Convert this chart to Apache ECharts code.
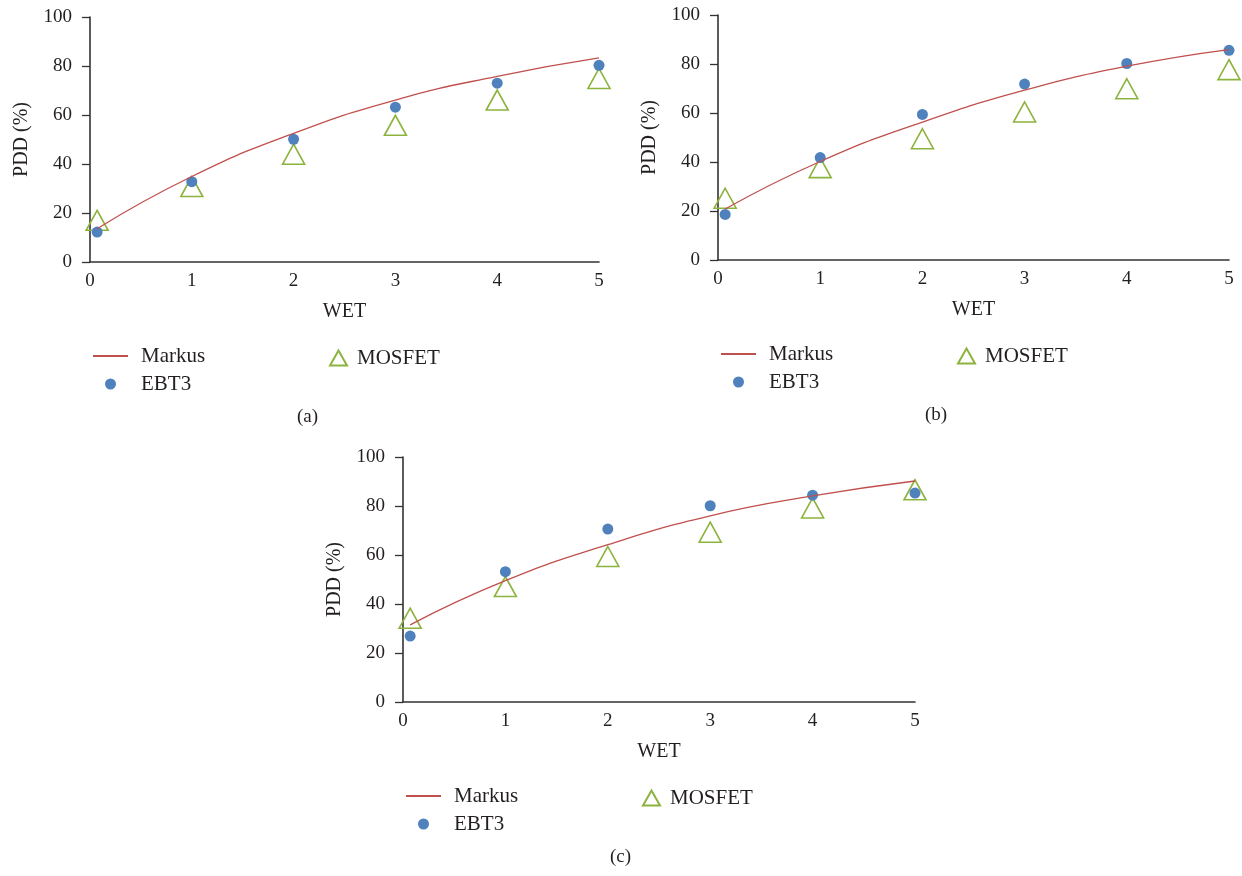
<!DOCTYPE html>
<html>
<head>
<meta charset="utf-8">
<script src="https://cdn.jsdelivr.net/npm/echarts@6/dist/echarts.min.js"></script>
<style>
  html, body { margin: 0; padding: 0; background: #fff; }
  #chart { width: 1242px; height: 876px; }
</style>
</head>
<body>
<div id="chart"></div>
<script>
// depth in water-equivalent thickness (WET)
const wetX = [0.07, 1, 2, 3, 4, 5]

// panel (a)
const markusA = [13.6, 34.9, 52.5, 66.1, 75.8, 83.3]
const ebt3A = [12.2, 32.8, 50.1, 63.2, 73.0, 80.3]
const mosfetA = [17.0, 30.8, 44.0, 55.8, 66.1, 74.9]
// panel (b)
const markusB = [20.8, 40.2, 56.3, 69.3, 79.1, 85.9]
const ebt3B = [18.6, 41.8, 59.4, 71.8, 80.2, 85.6]
const mosfetB = [25.2, 37.7, 49.5, 60.4, 69.9, 77.7]
// panel (c)
const markusC = [31.5, 49.5, 64.2, 76.0, 84.1, 90.2]
const ebt3C = [26.9, 53.2, 70.6, 80.1, 84.4, 85.3]
const mosfetC = [34.2, 47.1, 59.4, 69.3, 79.2, 86.6]

const seriesNames = ['Markus', 'EBT3', 'MOSFET']
const panelLabels = ['(a)', '(b)', '(c)']

const font = '"Liberation Serif", "DejaVu Serif", serif'
const textColor = '#231f20'
const red = '#c0504d'
const blue = '#4f81bd'
const green = '#8db33f'

const panels = [
  { markus: markusA, ebt3: ebt3A, mosfet: mosfetA, left: 90, top: 17, width: 509 },
  { markus: markusB, ebt3: ebt3B, mosfet: mosfetB, left: 718, top: 15, width: 511 },
  { markus: markusC, ebt3: ebt3C, mosfet: mosfetC, left: 403, top: 457, width: 512 }
]

function pairs(ys) {
  return wetX.map((x, i) => [x, ys[i]])
}

const grid = []
const xAxis = []
const yAxis = []
const series = []
const legend = []
const title = []

panels.forEach((p, i) => {
  grid.push({ left: p.left, top: p.top, width: p.width, height: 245 })
  xAxis.push({
    type: 'value',
    gridIndex: i,
    min: 0,
    max: 5,
    interval: 1,
    name: 'WET',
    nameLocation: 'middle',
    nameGap: 40,
    nameTextStyle: { fontFamily: font, fontSize: 20, color: textColor },
    axisLine: { lineStyle: { color: '#333', width: 1.6 } },
    axisTick: { show: false },
    axisLabel: { fontFamily: font, fontSize: 19, color: textColor, margin: 10 },
    splitLine: { show: false }
  })
  yAxis.push({
    type: 'value',
    gridIndex: i,
    min: 0,
    max: 100,
    interval: 20,
    name: 'PDD (%)',
    nameLocation: 'middle',
    nameRotate: 90,
    nameGap: 58,
    nameTextStyle: { fontFamily: font, fontSize: 20, color: textColor },
    axisLine: { show: true, lineStyle: { color: '#333', width: 1.6 } },
    axisTick: { show: true, length: 8, lineStyle: { color: '#333', width: 1.3 } },
    axisLabel: { fontFamily: font, fontSize: 19, color: textColor, margin: 18 },
    splitLine: { show: false }
  })

  series.push({
    name: 'MOSFET',
    type: 'scatter',
    xAxisIndex: i,
    yAxisIndex: i,
    symbol: 'triangle',
    symbolSize: [22, 20],
    itemStyle: { color: 'rgba(255,255,255,0)', borderColor: green, borderWidth: 1.6, opacity: 1 },
    data: pairs(p.mosfet)
  })
  series.push({
    name: 'EBT3',
    type: 'scatter',
    xAxisIndex: i,
    yAxisIndex: i,
    symbol: 'circle',
    symbolSize: 11,
    itemStyle: { color: blue, opacity: 1 },
    data: pairs(p.ebt3)
  })
  series.push({
    name: 'Markus',
    type: 'line',
    xAxisIndex: i,
    yAxisIndex: i,
    smooth: true,
    symbol: 'none',
    lineStyle: { color: red, width: 1.3 },
    itemStyle: { color: red },
    data: pairs(p.markus)
  })

  const legendTop = p.top + 245 + 83
  legend.push({
    left: p.left + 2,
    top: legendTop,
    orient: 'vertical',
    padding: 0,
    itemGap: 6,
    itemWidth: 35,
    itemHeight: 11,
    selectedMode: false,
    textStyle: { fontFamily: font, fontSize: 21, color: textColor, lineHeight: 22, padding: [0, 0, 0, 8] },
    data: [
      { name: seriesNames[0], itemStyle: { opacity: 0 } },
      { name: seriesNames[1], icon: 'circle', itemStyle: { opacity: 1 } }
    ]
  })
  legend.push({
    left: p.left + 239,
    top: legendTop + 2,
    orient: 'horizontal',
    padding: 0,
    itemWidth: 17,
    itemHeight: 15,
    selectedMode: false,
    textStyle: { fontFamily: font, fontSize: 21, color: textColor, lineHeight: 22, padding: [0, 0, 0, 5] },
    data: [{ name: seriesNames[2], icon: 'triangle', itemStyle: { opacity: 1 } }]
  })

  title.push({
    text: panelLabels[i],
    left: p.left + 207,
    top: p.top + 245 + 146,
    padding: 0,
    textStyle: { fontFamily: font, fontSize: 19, fontWeight: 'normal', color: textColor }
  })
})

const chart = echarts.init(document.getElementById('chart'))
chart.setOption({
  backgroundColor: '#fff',
  animation: false,
  title: title,
  legend: legend,
  grid: grid,
  xAxis: xAxis,
  yAxis: yAxis,
  series: series
})
</script>
</body>
</html>
